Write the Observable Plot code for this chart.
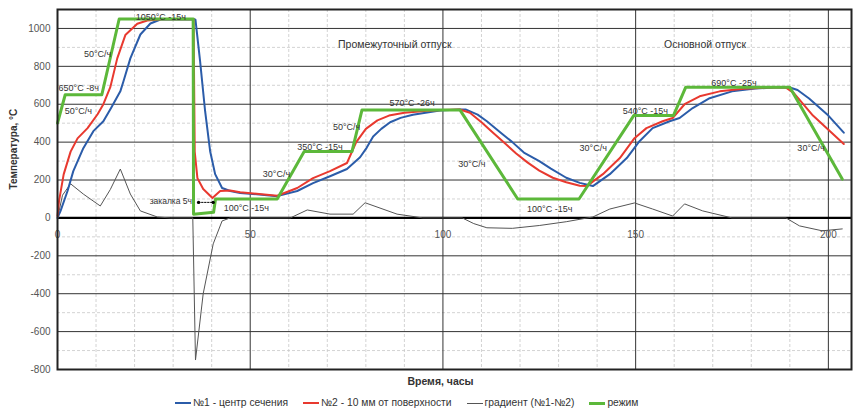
<!DOCTYPE html>
<html>
<head>
<meta charset="utf-8">
<script src="https://cdn.jsdelivr.net/npm/d3@7"></script>
<script src="https://cdn.jsdelivr.net/npm/@observablehq/plot@0.6"></script>
<style>
  body { margin: 0; background: #fff; font-family: "Liberation Sans", Arial, sans-serif; }
  #chart { position: relative; width: 864px; height: 415px; }
  #legend { position: absolute; left: 175px; top: 396px; display: flex; gap: 15px; font-size: 10.3px; color: #333; align-items: center; line-height: 14px; }
  #legend .it { display: flex; align-items: center; gap: 2px; }
  #legend .sw { display: inline-block; width: 16px; height: 2px; }
</style>
</head>
<body>
<div id="chart"></div>
<script>
// ---- data (time in hours, temperature in °C) ----
const seriesNames = ["№1 - центр сечения", "№2 - 10 мм от поверхности", "градиент (№1-№2)", "режим"];
const seriesColors = ["#2b5ca9", "#e8392f", "#555555", "#5cb83a"];

const regime = [
  [0,500],[2,650],[11.5,650],[16,1050],[35.2,1050],[35.3,20],[40.5,30],[41,100],[57,100],
  [64,350],[76.4,350],[79,570],[104.4,570],[119.4,100],[135.3,100],[149.5,540],[159.8,540],
  [163,690],[190,690],[203.6,205]
];

const center = [
  [0,0],[0.8,37],[2.6,142],[4.1,247],[6.7,368],[9.3,458],[11.9,510],[13.9,580],[16.3,668],
  [17.1,720],[18.9,842],[21.5,968],[24.1,1026],[26.7,1047],[35.6,1048],[35.8,1045],[37,826],
  [38.3,563],[39.6,352],[40.9,231],[42.7,158],[44.8,142],[47.4,132],[57,115],[62.2,142],
  [66.3,184],[70.7,220],[75.1,258],[78.5,320],[80.2,370],[81.9,430],[84,470],[86.3,505],
  [89,528],[92.2,545],[99.2,567],[104.4,572],[106,572],[109,545],[111.4,510],[115,450],
  [118,400],[121,345],[125,300],[128,260],[132,212],[135.5,185],[138.9,168],[143.3,231],
  [147.7,316],[151,405],[154.4,474],[158.8,510],[161.4,527],[164.8,580],[169.2,632],[175,668],
  [181,683],[186,688],[190,688],[192,675],[195,630],[200,540],[204,450]
];

const surface = [
  [0,10],[0.4,90],[1.6,230],[3.4,350],[5.2,420],[7.8,474],[10.4,547],[11.9,600],[13.7,690],
  [15.5,842],[17.6,965],[20.7,1025],[23.3,1042],[27,1048],[35.3,1048],[35.6,350],[36.3,210],
  [37.8,153],[40.2,105],[42.2,142],[44.8,145],[47.4,135],[57,117],[62.2,158],[66.3,210],
  [70.7,247],[75.1,290],[77.5,400],[80,470],[83,515],[86,540],[90,555],[96,565],[100,570],
  [104.4,572],[107,555],[110,505],[113,450],[116,395],[119,340],[122,292],[125,250],[128.5,212],
  [132,188],[135.5,170],[137.3,168],[141.5,231],[145.9,316],[149.7,421],[152.8,474],[157,510],
  [159.6,527],[162.7,600],[166.6,642],[171.8,668],[178,682],[184,688],[189,688],[191,660],
  [196,540],[200,465],[204,390]
];

const gradient = [
  [0,0],[0.3,25],[1.3,120],[3.4,180],[6.7,126],[11.1,63],[13.7,150],[16.3,258],[18.9,126],
  [21.5,37],[25.9,5],[29.3,0],[35.1,0],[35.8,-750],[37.8,-400],[40.4,-137],[42.7,-16],[44.8,0],
  [60.4,0],[64.8,42],[70.7,20],[76.7,20],[79.8,80],[88.1,20],[94.8,0],[105,0],[108,-30],
  [111.4,-52],[118,-55],[125,-40],[132,-20],[138.9,5],[143.3,47],[149.7,79],[154.4,47],
  [159.6,10],[162.7,74],[167.4,37],[175,0],[189,0],[192.5,-42],[198.4,-68],[203.6,-58]
];

const quenchSpan = [[36.6,82],[40.4,82]];

const noteText = ["650°С -8ч","50°С/ч","50°С/ч","1050°С -15ч","100°С -15ч","30°С/ч",
  "350°С -15ч","50°С/ч","570°С -26ч","30°С/ч","100°С -15ч","30°С/ч",
  "540°С -15ч","690°С -25ч","30°С/ч"];
const noteT = [5.5,5.4,10.4,26.8,49,56.8,68.1,75,92,107.5,127.7,139,152.5,175.5,195.5];
const noteV = [684,563,863,1058,53,232,374,479,605,284,47,370,563,710,368];

const quenchText = ["закалка 5ч"];
const quenchT = [34.9];
const quenchV = [88];

const sectionText = ["Промежуточный отпуск", "Основной отпуск"];
const sectionT = [87.5, 168];
const sectionV = [916, 916];

const xTicks = [0,50,100,150,200];
const yTicks = [-800,-600,-400,-200,0,200,400,600,800,1000];

// ---- build ----
const zip = (s, t, v) => s.map((txt, i) => ({s: txt, t: t[i], v: v[i]}));
const xMinor = d3.range(10, 206, 10).filter(d => d % 50 !== 0);
const yMinor = d3.range(-700, 1100, 200);
const xLabelRows = xTicks.map(t => ({t, v: 0}));
const toRows = arr => arr.map(([t,v]) => ({t, v}));

const plot = Plot.plot({
  width: 864,
  height: 392,
  marginLeft: 57,
  marginRight: 13,
  marginTop: 9,
  marginBottom: 23,
  style: {fontFamily: "Liberation Sans, Arial, sans-serif", fontSize: "10px", color: "#444", background: "#fff"},
  x: {domain: [0, 206], axis: null},
  y: {domain: [-800, 1100], axis: null},
  marks: [
    Plot.ruleX(xMinor, {stroke: "#c8c8c8", strokeDasharray: "3,2", strokeWidth: 0.8}),
    Plot.ruleY(yMinor, {stroke: "#c8c8c8", strokeDasharray: "3,2", strokeWidth: 0.8}),
    Plot.ruleX(xTicks, {stroke: "#333", strokeWidth: 1}),
    Plot.ruleY(yTicks, {stroke: "#333", strokeWidth: 1}),
    Plot.ruleY([0], {stroke: "#000", strokeWidth: 2.2}),
    Plot.axisY({ticks: yTicks, tickSize: 0, tickPadding: 7, label: null, fill: "#555", fontSize: 10, tickFormat: d => String(d)}),
    Plot.text(xLabelRows, {x: "t", y: "v", text: d => String(d.t), dy: 17, fill: "#555", fontSize: 10}),
    Plot.text(["Температура, °С"], {frameAnchor: "left", rotate: -90, dx: -44, fontWeight: "bold", fill: "#333", fontSize: 10}),
    Plot.text(["Время, часы"], {frameAnchor: "bottom", dy: 15, dx: -14, fontWeight: "bold", fill: "#333", fontSize: 10.5}),
    Plot.line(toRows(gradient), {x: "t", y: "v", stroke: seriesColors[2], strokeWidth: 1}),
    Plot.line(toRows(center), {x: "t", y: "v", stroke: seriesColors[0], strokeWidth: 2}),
    Plot.line(toRows(surface), {x: "t", y: "v", stroke: seriesColors[1], strokeWidth: 2}),
    Plot.line(toRows(regime), {x: "t", y: "v", stroke: seriesColors[3], strokeWidth: 3}),
    Plot.line(toRows(quenchSpan), {x: "t", y: "v", stroke: "#000", strokeWidth: 1, strokeDasharray: "1.5,1.5", marker: "dot"}),
    Plot.text(zip(noteText, noteT, noteV), {x: "t", y: "v", text: "s", fontSize: 9, fill: "#333"}),
    Plot.text(zip(quenchText, quenchT, quenchV), {x: "t", y: "v", text: "s", textAnchor: "end", fontSize: 8.5, fill: "#333"}),
    Plot.text(zip(sectionText, sectionT, sectionV), {x: "t", y: "v", text: "s", fontSize: 10.5, fill: "#333"}),
    Plot.frame({stroke: "#222", strokeWidth: 2})
  ]
});
document.getElementById("chart").appendChild(plot);

const lg = document.createElement("div");
lg.id = "legend";
seriesNames.forEach((n,i) => {
  const it = document.createElement("div");
  it.className = "it";
  const sw = document.createElement("span");
  sw.className = "sw";
  sw.style.background = seriesColors[i];
  sw.style.height = i === 2 ? "1px" : (i === 3 ? "3px" : "2px");
  it.appendChild(sw);
  const tx = document.createElement("span");
  tx.textContent = n;
  it.appendChild(tx);
  lg.appendChild(it);
});
document.getElementById("chart").appendChild(lg);
</script>
</body>
</html>
